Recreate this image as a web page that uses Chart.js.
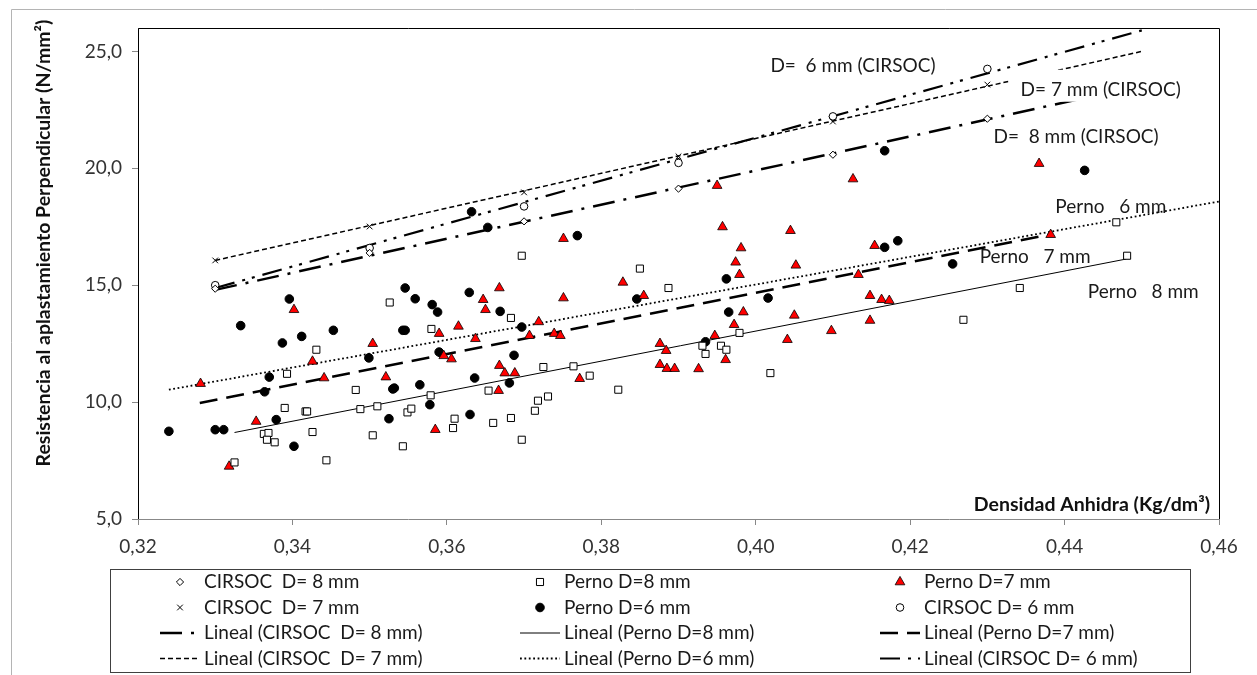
<!DOCTYPE html>
<html>
<head>
<meta charset="utf-8">
<script src="https://cdn.jsdelivr.net/npm/chart.js@4.4.1/dist/chart.umd.min.js"></script>
<style>
  html, body { margin: 0; padding: 0; background: #fff; }
  #wrap { width: 1257px; height: 675px; }
</style>
</head>
<body>
<div id="wrap"><canvas id="chart" width="1257" height="675"></canvas></div>
<script>
// Resistencia al aplastamiento vs densidad anhidra

// CIRSOC values, same densities for all three diameters
const cirsocX = [0.33, 0.35, 0.37, 0.39, 0.41, 0.43];
const cirsoc8Y = [14.85, 16.38, 17.73, 19.13, 20.58, 22.12];
const cirsoc7Y = [16.06, 17.51, 18.97, 20.51, 22.0, 23.58];
const cirsoc6Y = [15.0, 16.59, 18.37, 20.23, 22.22, 24.25];

// Perno D=8 mm (open squares)
const perno8X = [0.3526, 0.3431, 0.3393, 0.3482, 0.3390, 0.3417, 0.3419, 0.3488, 0.3510, 0.3549,
  0.3554, 0.3426, 0.3504, 0.3363, 0.3369, 0.3367, 0.3377, 0.3543, 0.3325, 0.3444,
  0.3697, 0.3850, 0.3887, 0.3580, 0.3683, 0.3979, 0.3931, 0.3935, 0.3955, 0.3962,
  0.4019, 0.3725, 0.3764, 0.3785, 0.3822, 0.3579, 0.3654, 0.3610, 0.3608, 0.3660,
  0.3683, 0.3718, 0.3731, 0.3714, 0.3697, 0.4467, 0.4481, 0.4342, 0.4269];
const perno8Y = [14.26, 12.24, 11.21, 10.52, 9.75, 9.60, 9.60, 9.70, 9.82, 9.56,
  9.72, 8.72, 8.58, 8.64, 8.68, 8.39, 8.28, 8.11, 7.42, 7.51,
  16.26, 15.71, 14.88, 13.13, 13.60, 12.96, 12.41, 12.06, 12.41, 12.24,
  11.24, 11.50, 11.53, 11.13, 10.53, 10.29, 10.49, 9.29, 8.89, 9.11,
  9.32, 10.06, 10.24, 9.63, 8.39, 17.69, 16.26, 14.88, 13.52];

// Perno D=7 mm (red triangles)
const perno7X = [0.3402, 0.3504, 0.3426, 0.3281, 0.3441, 0.3521, 0.3353, 0.3318, 0.3957, 0.4045,
  0.3751, 0.3981, 0.3974, 0.4052, 0.3979, 0.3828, 0.3668, 0.3855, 0.3751, 0.3647,
  0.3650, 0.3984, 0.4050, 0.3972, 0.3615, 0.3590, 0.3719, 0.3637, 0.3707, 0.3739,
  0.3747, 0.3876, 0.3884, 0.3947, 0.4041, 0.3596, 0.3606, 0.3668, 0.3675, 0.3688,
  0.3876, 0.3885, 0.3895, 0.3926, 0.3961, 0.3772, 0.3667, 0.3585, 0.4154, 0.4382,
  0.4133, 0.4148, 0.4163, 0.4173, 0.4148, 0.4098, 0.4126, 0.4367, 0.3950];
const perno7Y = [13.95, 12.50, 11.74, 10.79, 11.03, 11.07, 9.17, 7.25, 17.49, 17.33,
  16.99, 16.59, 15.98, 15.85, 15.45, 15.12, 14.88, 14.55, 14.45, 14.38,
  13.95, 13.85, 13.71, 13.31, 13.24, 12.93, 13.43, 12.71, 12.84, 12.93,
  12.84, 12.50, 12.20, 12.84, 12.67, 11.98, 11.84, 11.56, 11.24, 11.24,
  11.60, 11.43, 11.43, 11.42, 11.81, 11.00, 10.49, 8.82, 16.69, 17.16,
  15.45, 14.55, 14.38, 14.34, 13.49, 13.05, 19.54, 20.20, 19.26];

// Perno D=6 mm (black dots)
const perno6X = [0.3546, 0.3559, 0.3396, 0.3333, 0.3387, 0.3412, 0.3453, 0.3543, 0.3546, 0.3499,
  0.3370, 0.3364, 0.3530, 0.3532, 0.3565, 0.3240, 0.3300, 0.3311, 0.3379, 0.3402,
  0.3525, 0.3769, 0.3629, 0.3581, 0.3588, 0.3669, 0.3697, 0.3846, 0.3962, 0.3965,
  0.4016, 0.3590, 0.3687, 0.3636, 0.3681, 0.3578, 0.3630, 0.3935, 0.3653, 0.3632,
  0.4167, 0.4184, 0.4255, 0.4167, 0.4426];
const perno6Y = [14.88, 14.42, 14.41, 13.27, 12.53, 12.81, 13.07, 13.07, 13.07, 11.89,
  11.07, 10.44, 10.56, 10.60, 10.74, 8.75, 8.82, 8.82, 9.25, 8.11,
  9.29, 17.12, 14.69, 14.17, 13.85, 13.88, 13.21, 14.41, 15.27, 13.85,
  14.45, 12.14, 12.00, 11.03, 10.82, 9.89, 9.47, 12.58, 17.47, 18.14,
  16.62, 16.90, 15.91, 20.75, 19.91];

// linear trend lines, end points
const trendC8X = [0.33, 0.45], trendC8Y = [14.80, 23.55];
const trendP8X = [0.3325, 0.448], trendP8Y = [8.70, 16.12];
const trendP7X = [0.328, 0.438], trendP7Y = [9.96, 17.16];
const trendC7X = [0.33, 0.45], trendC7Y = [16.06, 25.00];
const trendP6X = [0.324, 0.46], trendP6Y = [10.53, 18.58];
const trendC6X = [0.33, 0.45], trendC6Y = [14.88, 25.90];

// axes
const xMin = 0.32, xMax = 0.46, xStep = 0.02;
const yMin = 5, yMax = 26, yStep = 5;
const xTickLabels = ['0,32', '0,34', '0,36', '0,38', '0,40', '0,42', '0,44', '0,46'];
const yTickLabels = ['5,0', '10,0', '15,0', '20,0', '25,0'];

const FONT = 'Lato, "Open Sans", sans-serif';
const TXT = 19;

function pts(xs, ys) {
  return xs.map((x, i) => ({ x: x, y: ys[i] }));
}

function scatterSet(label, xs, ys, style) {
  return Object.assign({
    label: label,
    data: pts(xs, ys),
    showLine: false,
    pointBorderColor: '#000',
    pointBorderWidth: 1
  }, style);
}

function trendSet(label, xs, ys, style) {
  return Object.assign({
    label: label,
    data: pts(xs, ys),
    showLine: true,
    pointRadius: 0,
    pointHoverRadius: 0,
    borderColor: '#000',
    fill: false,
    isTrend: true
  }, style);
}

const datasets = [
  scatterSet('CIRSOC  D= 8 mm', cirsocX, cirsoc8Y,
    { pointStyle: 'rectRot', pointRadius: 3.6, pointBackgroundColor: '#fff' }),
  scatterSet('Perno D=8 mm', perno8X, perno8Y,
    { pointStyle: 'rect', pointRadius: 5, pointBackgroundColor: '#fff' }),
  scatterSet('Perno D=7 mm', perno7X, perno7Y,
    { pointStyle: 'triangle', pointRadius: 5.6, pointBackgroundColor: '#ff0000', pointBorderWidth: 0.8 }),
  scatterSet('CIRSOC  D= 7 mm', cirsocX, cirsoc7Y,
    { pointStyle: 'crossRot', pointRadius: 4, pointBackgroundColor: '#000' }),
  scatterSet('Perno D=6 mm', perno6X, perno6Y,
    { pointStyle: 'circle', pointRadius: 4.3, pointBackgroundColor: '#000' }),
  scatterSet('CIRSOC D= 6 mm', cirsocX, cirsoc6Y,
    { pointStyle: 'circle', pointRadius: 3.8, pointBackgroundColor: '#fff' }),
  trendSet('Lineal (CIRSOC  D= 8 mm)', trendC8X, trendC8Y,
    { borderWidth: 2.5, borderDash: [22, 9, 3, 9] }),
  trendSet('Lineal (Perno D=8 mm)', trendP8X, trendP8Y,
    { borderWidth: 1 }),
  trendSet('Lineal (Perno D=7 mm)', trendP7X, trendP7Y,
    { borderWidth: 2.5, borderDash: [18, 9] }),
  trendSet('Lineal (CIRSOC  D= 7 mm)', trendC7X, trendC7Y,
    { borderWidth: 1.5, borderDash: [5, 3] }),
  trendSet('Lineal (Perno D=6 mm)', trendP6X, trendP6Y,
    { borderWidth: 1.8, borderDash: [1.8, 2.6] }),
  trendSet('Lineal (CIRSOC D= 6 mm)', trendC6X, trendC6Y,
    { borderWidth: 2.2, borderDash: [20, 8, 3, 7, 3, 8] })
];

// text labels placed next to the lines, in data units
const notes = [
  { text: 'D=  6 mm (CIRSOC)', x: 0.4019, y: 24.36, bg: false },
  { text: 'D= 7 mm (CIRSOC)', x: 0.4343, y: 23.36, bg: true },
  { text: 'D=  8 mm (CIRSOC)', x: 0.4308, y: 21.36, bg: false },
  { text: 'Perno   6 mm', x: 0.4388, y: 18.37, bg: false },
  { text: 'Perno   7 mm', x: 0.4290, y: 16.21, bg: false },
  { text: 'Perno   8 mm', x: 0.4430, y: 14.71, bg: false }
];

function drawMarker(ctx, ds, x, y) {
  ctx.save();
  ctx.fillStyle = ds.pointBackgroundColor;
  ctx.strokeStyle = ds.pointBorderColor;
  ctx.lineWidth = ds.pointBorderWidth;
  if (Chart.helpers && Chart.helpers.drawPoint) {
    Chart.helpers.drawPoint(ctx, {
      pointStyle: ds.pointStyle,
      radius: ds.pointRadius,
      rotation: 0,
      borderWidth: ds.pointBorderWidth
    }, x, y);
  } else {
    ctx.beginPath();
    ctx.arc(x, y, ds.pointRadius, 0, Math.PI * 2);
    ctx.fill();
    ctx.stroke();
  }
  ctx.restore();
}

const decor = {
  id: 'decor',
  beforeDraw(chart) {
    const ctx = chart.ctx;
    ctx.save();
    ctx.fillStyle = '#fff';
    ctx.fillRect(0, 0, chart.width, chart.height);
    // outer chart frame
    ctx.strokeStyle = '#b4b4b4';
    ctx.lineWidth = 1;
    ctx.beginPath();
    ctx.moveTo(11.5, chart.height);
    ctx.lineTo(11.5, 9.5);
    ctx.lineTo(chart.width, 9.5);
    ctx.stroke();
    ctx.restore();
  },
  afterDraw(chart) {
    const ctx = chart.ctx;
    const a = chart.chartArea;
    const xs = chart.scales.x, ys = chart.scales.y;
    ctx.save();

    // plot area border
    ctx.strokeStyle = '#000';
    ctx.lineWidth = 1;
    ctx.beginPath();
    ctx.moveTo(Math.round(a.left) + 0.5, Math.round(a.bottom));
    ctx.lineTo(Math.round(a.left) + 0.5, Math.round(a.top) + 0.5);
    ctx.lineTo(Math.round(a.right) + 0.5, Math.round(a.top) + 0.5);
    ctx.lineTo(Math.round(a.right) + 0.5, Math.round(a.bottom));
    ctx.stroke();

    // line labels
    ctx.font = TXT + 'px ' + FONT;
    ctx.textBaseline = 'middle';
    ctx.textAlign = 'left';
    notes.forEach(n => {
      const px = xs.getPixelForValue(n.x);
      const py = ys.getPixelForValue(n.y);
      if (n.bg) {
        const w = ctx.measureText(n.text).width;
        ctx.fillStyle = '#fff';
        ctx.fillRect(px - 12, py - 20, w + 16, 32);
      }
      ctx.fillStyle = '#1a1a1a';
      ctx.fillText(n.text, px, py);
    });

    // axis titles
    ctx.font = 'bold 19.5px ' + FONT;
    ctx.fillStyle = '#111';
    ctx.textAlign = 'right';
    ctx.fillText('Densidad Anhidra (Kg/dm³)', a.right - 9, a.bottom - 14);
    ctx.save();
    ctx.translate(44, 243);
    ctx.rotate(-Math.PI / 2);
    ctx.textAlign = 'center';
    ctx.fillText('Resistencia al aplastamiento Perpendicular (N/mm²)', 0, 0);
    ctx.restore();

    // legend, three columns, row by row
    const box = { left: 110.5, top: 569.5, right: 1190.5, bottom: 672.5 };
    ctx.strokeStyle = '#404040';
    ctx.lineWidth = 1;
    ctx.strokeRect(box.left, box.top, box.right - box.left, box.bottom - box.top);
    const colX = [160, 520, 880];
    const rowY = [582, 607.5, 633, 658.5];
    ctx.font = TXT + 'px ' + FONT;
    ctx.textAlign = 'left';
    ctx.textBaseline = 'middle';
    chart.data.datasets.forEach((ds, i) => {
      const cx = colX[i % 3];
      const cy = rowY[Math.floor(i / 3)];
      if (ds.isTrend) {
        ctx.save();
        ctx.strokeStyle = ds.borderColor;
        ctx.lineWidth = ds.borderWidth;
        ctx.setLineDash(ds.borderDash || []);
        ctx.beginPath();
        ctx.moveTo(cx, cy);
        ctx.lineTo(cx + 40, cy);
        ctx.stroke();
        ctx.restore();
      } else {
        drawMarker(ctx, ds, cx + 20, cy);
      }
      ctx.fillStyle = '#1a1a1a';
      ctx.fillText(ds.label, cx + 44, cy);
    });

    ctx.restore();
  }
};

new Chart(document.getElementById('chart'), {
  type: 'scatter',
  data: { datasets: datasets },
  options: {
    responsive: false,
    animation: false,
    events: [],
    layout: { padding: { left: 0, top: 28, right: 38, bottom: 106 } },
    plugins: {
      legend: { display: false },
      tooltip: { enabled: false }
    },
    scales: {
      x: {
        type: 'linear',
        min: xMin,
        max: xMax,
        afterFit: s => { s.height = 50; },
        ticks: {
          stepSize: xStep,
          color: '#333',
          padding: 10,
          font: { family: FONT, size: TXT },
          callback: v => xTickLabels[Math.round((v - xMin) / xStep)]
        },
        grid: { drawOnChartArea: false, tickLength: 6, color: '#888' },
        border: { color: '#888' }
      },
      y: {
        type: 'linear',
        min: yMin,
        max: yMax,
        afterFit: s => { s.width = 138; },
        ticks: {
          stepSize: yStep,
          includeBounds: false,
          color: '#333',
          padding: 10,
          font: { family: FONT, size: TXT },
          callback: v => yTickLabels[Math.round((v - yMin) / yStep)]
        },
        grid: { drawOnChartArea: false, tickLength: 6, color: '#888' },
        border: { color: '#888' }
      }
    }
  },
  plugins: [decor]
});
</script>
</body>
</html>
